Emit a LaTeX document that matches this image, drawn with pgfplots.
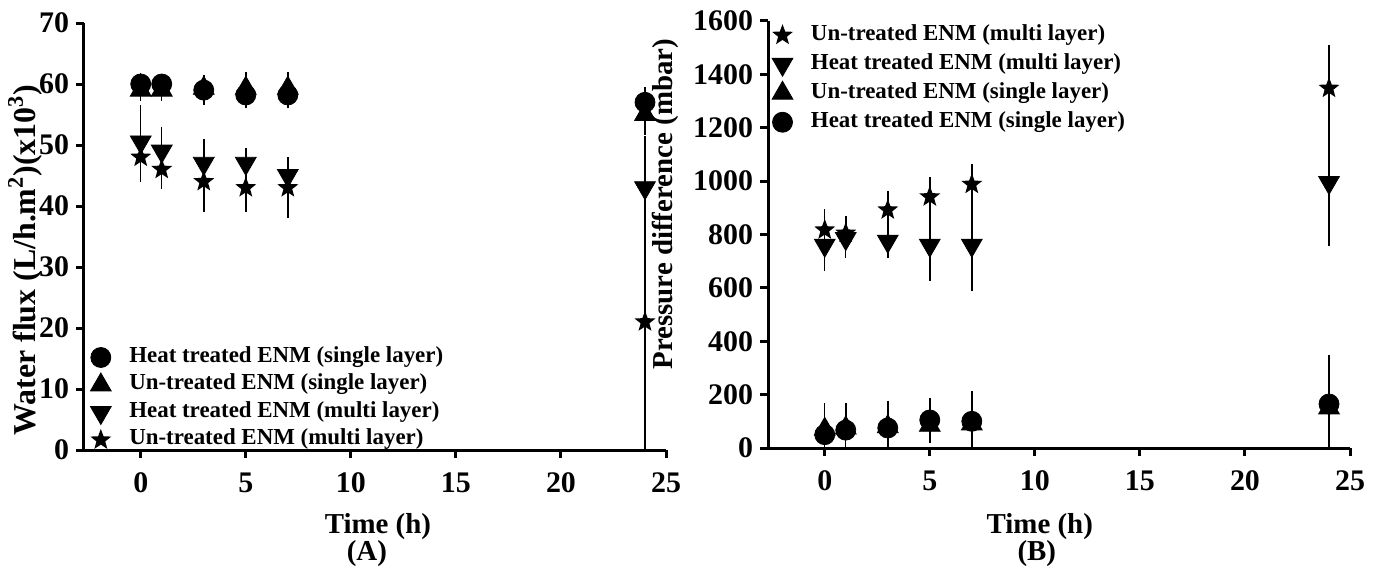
\documentclass[border=0pt]{standalone}
\usepackage{fontspec}
\setmainfont{Liberation Serif}
\usepackage{pgfplots}
\pgfplotsset{compat=1.18}
\usetikzlibrary{plotmarks}

% filled five-point star
\pgfdeclareplotmark{fstar}{%
  \pgfpathmoveto{\pgfpointpolar{90}{\pgfplotmarksize}}%
  \pgfpathlineto{\pgfpointpolar{126}{0.42\pgfplotmarksize}}%
  \pgfpathlineto{\pgfpointpolar{162}{\pgfplotmarksize}}%
  \pgfpathlineto{\pgfpointpolar{198}{0.42\pgfplotmarksize}}%
  \pgfpathlineto{\pgfpointpolar{234}{\pgfplotmarksize}}%
  \pgfpathlineto{\pgfpointpolar{270}{0.42\pgfplotmarksize}}%
  \pgfpathlineto{\pgfpointpolar{306}{\pgfplotmarksize}}%
  \pgfpathlineto{\pgfpointpolar{342}{0.42\pgfplotmarksize}}%
  \pgfpathlineto{\pgfpointpolar{18}{\pgfplotmarksize}}%
  \pgfpathlineto{\pgfpointpolar{54}{0.42\pgfplotmarksize}}%
  \pgfpathclose\pgfusepathqfill}

\pgfplotsset{
  panel/.style={
    scale only axis, width=291bp, height=213.5bp,
    xmin=-2.7, xmax=25, ymin=0,
    axis x line*=bottom, axis y line*=left,
    axis line style={line width=1.5bp},
    every tick/.style={line width=1.5bp, black},
    tick align=outside, major tick length=4bp,
    xtick={0,5,...,25},
    tick label style={font=\fontsize{15}{15}\selectfont\bfseries},
    xticklabel style={yshift=-4bp},
    /pgf/number format/assume math mode=true,
    /pgf/number format/1000 sep={},
    label style={font=\fontsize{14.5}{15}\selectfont\bfseries},
    xlabel style={anchor=north, inner sep=0pt, align=center},
    ylabel style={anchor=center, inner sep=0pt},
    legend style={draw=none, fill=none, anchor=north west,
      font=\fontsize{11.5}{11.5}\selectfont\bfseries,
      nodes={inner sep=0pt, text height=8.5bp, text depth=3.5bp},
      /tikz/every odd column/.append style={column sep=9bp}},
    legend cell align=left,
    legend image code/.code={\draw[mark repeat=2,mark phase=2,##1]
      plot coordinates {(0bp,0bp) (10bp,0bp) (20bp,0bp)};},
    error bars/y dir=both, error bars/y explicit,
    error bars/error bar style={line width=0.75bp, black},
    error bars/error mark options={mark size=3bp, line width=0.75bp, black},
  },
  dot/.style={black, only marks, mark=*, mark size=5bp},
  up/.style={black, only marks, mark=triangle*, mark size=6bp},
  down/.style={black, only marks, mark=triangle*, mark size=6bp, mark options={rotate=180}},
  st/.style={black, only marks, mark=fstar, mark size=5.5bp},
}

\begin{document}
\begin{tikzpicture}
\path (0,0) rectangle (691.5bp,285.5bp);

% (A) water flux
\begin{axis}[panel, at={(42bp,60.5bp)}, anchor=south west,
  ymax=70, ytick={0,10,...,70},
  xlabel={Time (h)\\[-1.5bp]\hspace*{-11bp}(A)},
  xlabel style={at={(axis description cs:0.505,-0.148)}},
  ylabel={Water flux (L/h.m\textsuperscript{2})(x10\textsuperscript{3})},
  ylabel style={at={(axis description cs:-0.101,0.445)}, font=\fontsize{16}{16}\selectfont\bfseries},
  legend style={at={(axis description cs:0.0,0.255)}, row sep=1.75bp},
]
\addplot[dot] table[x=t, y=v, y error=e] {
t v e
0 60 0.8
1 60 0.5
3 59 1.5
5 58.2 1.2
7 58.2 1.2
24 57 1.5
};
\addlegendentry{Heat treated ENM (single layer)}
\addplot[up] table[x=t, y=v, y error=e] {
t v e
0 59 0.8
1 59 0.8
3 59.3 0.8
5 59.3 1.7
7 59.3 1.7
24 55 2.4
};
\addlegendentry{Un-treated ENM (single layer)}
\addplot[down] table[x=t, y=v, y error=e] {
t v e
0 50.5 5
1 49 3
3 47 3
5 47 1.5
7 45 2
24 43 7.5
};
\addlegendentry{Heat treated ENM (multi layer)}
\addplot[st] table[x=t, y=v, y error=e] {
t v e
0 48 3
1 46 2.2
3 44 4
5 43 3
7 43 4
24 21 20
};
\addlegendentry{Un-treated ENM (multi layer)}
\end{axis}

% (B) pressure difference
\begin{axis}[panel, at={(384bp,61.5bp)}, anchor=south west,
  ymax=1600, ytick={0,200,...,1600},
  xlabel={Time (h)\\[-1.5bp]\hspace*{-3bp}(B)},
  xlabel style={at={(axis description cs:0.467,-0.153)}},
  ylabel={Pressure difference (mbar)},
  ylabel style={at={(axis description cs:-0.177,0.571)}},
  legend style={at={(axis description cs:-0.004,1.005)}, row sep=2.5bp},
]
\addplot[st] table[x=t, y=v, y error=e] {
t v e
0 817 55
1 805 40
3 892 48
5 941 52
7 988 52
24 1348 140
};
\addlegendentry{Un-treated ENM (multi layer)}
\addplot[down] table[x=t, y=v, y error=e] {
t v e
0 760 75
1 785 50
3 775 40
5 760 110
7 760 150
24 995 215
};
\addlegendentry{Heat treated ENM (multi layer)}
\addplot[up] table[x=t, y=v, y error=e] {
t v e
0 70 60
1 75 50
3 80 60
5 85 45
7 90 90
24 150 155
};
\addlegendentry{Un-treated ENM (single layer)}
\addplot[dot] table[x=t, y=v, y error=e] {
t v e
0 50 95
1 67 80
3 75 80
5 105 60
7 100 90
24 165 160
};
\addlegendentry{Heat treated ENM (single layer)}
\end{axis}

\pgfresetboundingbox
\path[use as bounding box] (0,0) rectangle (691.5bp,285.5bp);
\end{tikzpicture}
\end{document}
